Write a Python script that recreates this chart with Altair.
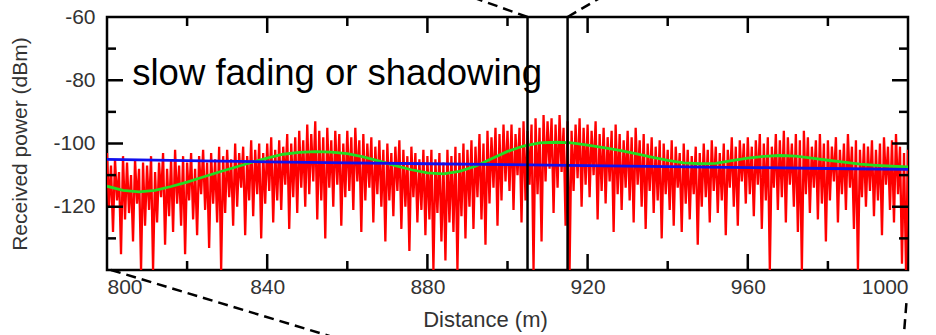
import altair as alt
import pandas as pd

# ---------------- data ----------------
# received power, fast fading trace: per-metre peak and dip samples (800..999 m)
hi = [
    -103, -107, -105, -109, -104, -106, -110, -105, -108, -106,
    -107, -104, -109, -106, -103, -108, -105, -102, -107, -104,
    -106, -103, -108, -104, -102, -106, -103, -105, -101, -104,
    -102, -105, -100, -103, -101, -104, -99, -102, -100, -103,
    -100, -98, -102, -99, -101, -97, -100, -98, -96, -99,
    -94, -97, -93, -96, -98, -95, -99, -96, -97, -100,
    -96, -98, -95, -99, -97, -100, -98, -101, -99, -102,
    -100, -103, -101, -99, -102, -104, -101, -103, -105, -102,
    -104, -102, -105, -103, -106, -102, -104, -101, -103, -100,
    -102, -99, -101, -97, -100, -96, -98, -95, -97, -94,
    -96, -94, -97, -95, -93, -96, -94, -92, -95, -91,
    -93, -92, -94, -91, -95, -93, -96, -94, -92, -95,
    -94, -96, -93, -97, -95, -98, -96, -94, -97, -99,
    -96, -98, -95, -99, -97, -100, -98, -101, -99, -100,
    -102, -99, -101, -103, -100, -102, -104, -101, -103, -100,
    -102, -99, -101, -103, -100, -102, -98, -101, -99, -100,
    -98, -101, -99, -97, -100, -98, -101, -97, -99, -96,
    -98, -100, -97, -99, -96, -98, -101, -99, -97, -100,
    -99, -101, -98, -102, -100, -97, -101, -99, -102, -100,
    -101, -99, -102, -100, -98, -101, -99, -97, -101, -103,
]
lo = [
    -120, -128, -118, -135, -124, -122, -131, -119, -140, -126,
    -121, -140, -125, -117, -132, -123, -128, -119, -126, -135,
    -118, -124, -129, -116, -121, -133, -119, -125, -140, -122,
    -117, -126, -120, -114, -129, -118, -123, -116, -130, -119,
    -115, -125, -118, -121, -113, -127, -117, -122, -114, -120,
    -116, -112, -124, -118, -130, -114, -120, -113, -126, -117,
    -115, -121, -112, -128, -118, -114, -125, -116, -120, -131,
    -118, -123, -115, -127, -120, -134, -117, -125, -121, -129,
    -124, -140, -122, -131, -137, -125, -128, -140, -123, -130,
    -120, -127, -117, -124, -132, -119, -114, -126, -118, -112,
    -115, -121, -110, -125, -118, -113, -140, -116, -131, -112,
    -108, -122, -114, -109, -126, -140, -115, -111, -120, -113,
    -117, -110, -124, -115, -119, -112, -128, -116, -121, -114,
    -118, -125, -113, -120, -127, -115, -122, -118, -130, -116,
    -121, -126, -114, -128, -119, -124, -116, -132, -120, -117,
    -125, -115, -122, -118, -129, -114, -120, -126, -112, -119,
    -116, -123, -113, -127, -118, -140, -114, -121, -117, -125,
    -113, -120, -128, -140, -116, -122, -114, -124, -119, -131,
    -118, -112, -125, -116, -121, -114, -127, -140, -117, -120,
    -115, -123, -118, -129, -113, -121, -125, -116, -138, -140,
]
trace_start = 800
trace_end_value = -102

# slow fading (local mean), every 4 m
green_x = list(range(800, 1001, 4))
green_y = [
    -113.5, -114.8, -115.3, -114.8, -113.6, -112.2, -110.6, -109.0, -107.5, -106.0,
    -104.6, -103.4, -102.8, -102.6, -102.7, -103.2, -104.2, -105.6, -107.0, -108.3,
    -109.3, -109.6, -108.8, -107.2, -104.8, -102.5, -100.8, -99.8, -99.6, -99.8,
    -100.5, -101.3, -102.2, -103.2, -104.3, -105.3, -106.1, -106.4, -106.3, -105.4,
    -104.6, -104.1, -103.8, -104.0, -104.6, -105.3, -105.9, -106.5, -106.9, -107.2,
    -107.4,
]

# path loss
blue_x = [800, 820, 840, 860, 880, 900, 920, 940, 960, 980, 1000]
blue_y = [-105.0, -105.4, -105.8, -106.1, -106.4, -106.7, -107.0, -107.3, -107.6, -107.9, -108.2]

# window markers
marker_x = [905, 915]

# annotation text
note_text = ["slow fading or shadowing"]
note_x = [806.3]
note_y = [-81.5]

# dashed zoom connectors (data coordinates, partly outside the plot)
dash_x1 = [905, 915, 801, 999.6]
dash_y1 = [-60, -60, -140, -150.5]
dash_x2 = [883, 928.4, 870, 999.0]
dash_y2 = [-50, -50, -166.4, -160]

x_ticks_major = [840, 880, 920, 960]
x_ticks_minor = [820, 860, 900, 940, 980]
y_ticks_major = [-80, -100, -120]
y_ticks_minor = [-70, -90, -110, -130]
x_labels = [800, 840, 880, 920, 960, 1000]
y_labels = [-60, -80, -100, -120]

# ---------------- build ----------------
W, H = 801, 253
FONT = "Liberation Sans"

tx, ty = [], []
for i, (a, b) in enumerate(zip(hi, lo)):
    tx.append(trace_start + i)
    ty.append(a)
    tx.append(trace_start + i + 0.5)
    ty.append(b)
tx.append(trace_start + len(hi))
ty.append(trace_end_value)
trace_df = pd.DataFrame({"x": tx, "y": ty})

xscale = alt.Scale(domain=[800, 1000], nice=False, zero=False)
yscale = alt.Scale(domain=[-140, -60], nice=False, zero=False)

xaxis = alt.Axis(
    values=x_labels, title="Distance (m)", grid=False, ticks=False, domain=False,
    labelFont=FONT, labelFontSize=21, labelColor="#333", labelPadding=6,
    labelExpr="toString(datum.value)",
    titleFont=FONT, titleFontSize=22, titleFontWeight="normal", titleColor="#333",
    titlePadding=12, titleX=378,
)
yaxis = alt.Axis(
    values=y_labels, title="Received power (dBm)", grid=False, ticks=False, domain=False,
    labelFont=FONT, labelFontSize=21, labelColor="#333", labelPadding=12,
    labelExpr="toString(datum.value)",
    titleFont=FONT, titleFontSize=21, titleFontWeight="normal", titleColor="#333",
    titlePadding=22,
)


def X(f):
    return alt.X(f, type="quantitative", scale=xscale, axis=xaxis)


def Y(f):
    return alt.Y(f, type="quantitative", scale=yscale, axis=yaxis)


red = alt.Chart(trace_df).mark_line(
    color="#ff0000", strokeWidth=2.3, clip=True, strokeJoin="bevel"
).encode(x=X("x"), y=Y("y"))
green = alt.Chart(pd.DataFrame({"x": green_x, "y": green_y})).mark_line(
    color="#22dd22", strokeWidth=2.8, clip=True
).encode(x=X("x"), y=Y("y"))
blue = alt.Chart(pd.DataFrame({"x": blue_x, "y": blue_y})).mark_line(
    color="#1010ee", strokeWidth=2.8, clip=True
).encode(x=X("x"), y=Y("y"))

markers = alt.Chart(pd.DataFrame({"x": marker_x})).mark_rule(
    color="black", strokeWidth=2.5
).encode(x=X("x"), y=alt.value(0), y2=alt.value(H))

note = alt.Chart(pd.DataFrame({"t": note_text, "x": note_x, "y": note_y})).mark_text(
    align="left", baseline="alphabetic", font=FONT, fontSize=36.5, color="black"
).encode(x=X("x"), y=Y("y"), text="t:N")

dashes = alt.Chart(
    pd.DataFrame({"x1": dash_x1, "y1": dash_y1, "x2": dash_x2, "y2": dash_y2})
).mark_rule(color="black", strokeWidth=2.5, strokeDash=[10, 6], clip=False).encode(
    x=X("x1"), y=Y("y1"), x2="x2:Q", y2="y2:Q"
)

tick_layers = []
for vals, ln in ((x_ticks_major, 16), (x_ticks_minor, 9)):
    d = pd.DataFrame({"v": vals})
    tick_layers.append(alt.Chart(d).mark_rule(color="black", strokeWidth=2.5).encode(
        x=X("v"), y=alt.value(H), y2=alt.value(H - ln)))
    tick_layers.append(alt.Chart(d).mark_rule(color="black", strokeWidth=2.5).encode(
        x=X("v"), y=alt.value(0), y2=alt.value(ln)))
for vals, ln in ((y_ticks_major, 16), (y_ticks_minor, 9)):
    d = pd.DataFrame({"v": vals})
    tick_layers.append(alt.Chart(d).mark_rule(color="black", strokeWidth=2.5).encode(
        y=Y("v"), x=alt.value(0), x2=alt.value(ln)))
    tick_layers.append(alt.Chart(d).mark_rule(color="black", strokeWidth=2.5).encode(
        y=Y("v"), x=alt.value(W), x2=alt.value(W - ln)))

chart = alt.layer(red, green, blue, markers, note, dashes, *tick_layers).properties(
    width=W, height=H,
    autosize=alt.AutoSizeParams(type="none"),
    padding={"left": 107, "top": 17, "right": 28, "bottom": 65},
    background="white",
).configure_view(stroke="black", strokeWidth=2.5)

chart.save("out.html", embed_options={"renderer": "svg", "actions": False})
